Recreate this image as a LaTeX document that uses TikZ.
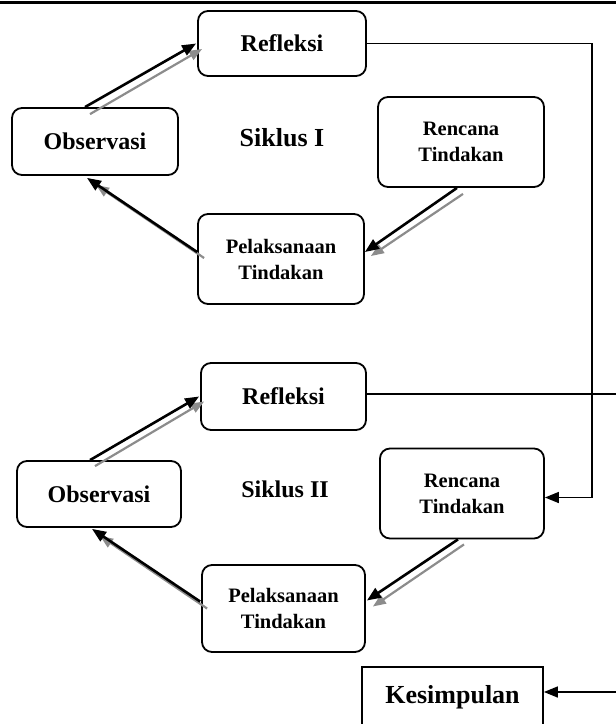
\documentclass[tikz,border=0pt]{standalone}
\usepackage{fontspec}
\setmainfont{Liberation Serif}
\usetikzlibrary{arrows.meta,calc}
\begin{document}
\begin{tikzpicture}[x=1pt,y=-1pt,
  box/.style={draw,line width=1.8pt,rounded corners=10pt,inner sep=0pt,align=center,font=\bfseries\fontsize{24}{28}\selectfont},
  boxtwo/.style={box,font=\bfseries\fontsize{20.5}{26}\selectfont},
  lbl/.style={font=\bfseries\fontsize{24}{28}\selectfont},
  barr/.style={line width=2.6pt,-{Triangle[length=14pt,width=11pt]}},
  garr/.style={line width=2.2pt,draw=black!45,-{Triangle[length=13pt,width=10pt,fill=black!45]}},
  conn/.style={line width=1.6pt},
  carr/.style={conn,-{Triangle[length=14pt,width=11pt]}}]
\useasboundingbox (0,0) rectangle (616,724);
\clip (0,0) rectangle (616,724);
\coordinate (tl) at (0,2);
\coordinate (tr) at (616,2);
\draw[line width=3pt] (tl) -- (tr);

% Siklus I
\node[box, minimum width=168pt, minimum height=65pt] (refl1) at (282,43.5) {Refleksi};
\node[box, minimum width=166pt, minimum height=67pt] (obs1) at (95,141.5) {Observasi};
\node[boxtwo, minimum width=166pt, minimum height=90pt] (ren1) at (461,142) {Rencana\\Tindakan};
\node[boxtwo, minimum width=166pt, minimum height=90pt] (pel1) at (281,259) {Pelaksanaan\\Tindakan};
\node[lbl, font=\bfseries\fontsize{26}{30}\selectfont] (sik1) at (282,138) {Siklus I};

\draw[garr] ($(obs1.north)+(-5,7)$) -- ($(refl1.west)+(5,5.5)$);
\draw[barr] ($(obs1.north)+(-10,0)$) -- ($(refl1.west)+(-1,0)$);
\draw[garr] ($(ren1.south)+(2,6)$) -- ($(pel1.east)+(6,-3)$);
\draw[barr] ($(ren1.south)+(-4,0)$) -- ($(pel1.east)+(0,-7)$);
\draw[garr] ($(pel1.west)+(7,-1)$) -- ($(obs1.south)+(1,9)$);
\draw[barr] ($(pel1.west)+(0,-7)$) -- ($(obs1.south)+(-8,2)$);

% Siklus II
\node[box, minimum width=165pt, minimum height=67pt] (refl2) at (283.5,396.5) {Refleksi};
\node[box, minimum width=164pt, minimum height=66pt] (obs2) at (99,494) {Observasi};
\node[boxtwo, minimum width=164pt, minimum height=90pt] (ren2) at (462,493.5) {Rencana\\Tindakan};
\node[boxtwo, minimum width=163pt, minimum height=87pt] (pel2) at (283.5,608.5) {Pelaksanaan\\Tindakan};
\node[lbl] (sik2) at (285,489) {Siklus II};

\draw[garr] ($(obs2.north)+(-4,6)$) -- ($(refl2.west)+(4,5)$);
\draw[barr] ($(obs2.north)+(-9,0)$) -- ($(refl2.west)+(-1,0)$);
\draw[garr] ($(ren2.south)+(2,5)$) -- ($(pel2.east)+(7,-2)$);
\draw[barr] ($(ren2.south)+(-4,0)$) -- ($(pel2.east)+(1,-8)$);
\draw[garr] ($(pel2.west)+(6,0)$) -- ($(obs2.south)+(1,8)$);
\draw[barr] ($(pel2.west)+(-1,-7)$) -- ($(obs2.south)+(-7,1)$);

% Kesimpulan
\node[draw,line width=1.8pt,inner sep=0pt,minimum width=181pt,minimum height=60pt,
      font=\bfseries\fontsize{26}{30}\selectfont] (kes) at (452.5,697) {Kesimpulan};

% right connectors
\coordinate (rx) at (592,0);
\draw[carr] (refl1.east) -- (refl1.east -| rx) -- ($(rx |- ren2.east)+(0,4)$) -- ($(ren2.east)+(0,4)$);
\coordinate (r2end) at (616,394);
\draw[conn] ($(refl2.east)+(0,-2.5)$) -- (r2end);
\coordinate (kesstart) at (616,692);
\draw[carr] (kesstart) -- (kesstart -| kes.east);
\end{tikzpicture}
\end{document}
